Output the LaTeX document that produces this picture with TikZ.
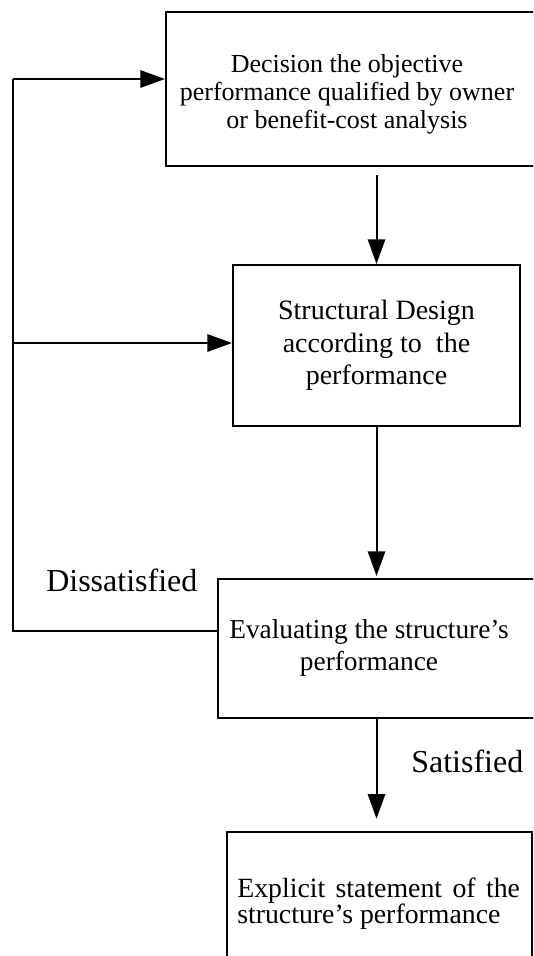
\documentclass[tikz,border=0pt]{standalone}
\usepackage{fontspec}
\setmainfont{Liberation Serif}
\usetikzlibrary{arrows.meta}
\tikzset{
  boxstyle/.style={draw, line width=1.5pt, rectangle, anchor=north west, inner sep=0pt},
  arr/.style={line width=1.5pt, -{Triangle[length=18.5pt,width=13pt]}},
  conn/.style={line width=1.5pt},
  lbl/.style={inner sep=0pt, font=\fontsize{24}{28}\selectfont},
}
\begin{document}
\begin{tikzpicture}[x=0.75pt,y=-0.75pt]
\clip (0,0) rectangle (533,956);
\fill[white] (0,0) rectangle (533,956);
% boxes
\node[boxstyle, minimum width=296.25pt, minimum height=115.5pt] (topbox) at (165,11) {};
\node[boxstyle, minimum width=215.25pt, minimum height=120.75pt, anchor=center,
      align=center, font=\fontsize{21}{24.4}\selectfont] (midbox) at (376.5,345.5)
      {Structural Design\\according to~ the\\performance};
\node[boxstyle, minimum width=255pt, minimum height=104.25pt] (evalbox) at (217,578) {};
\node[boxstyle, minimum width=229pt, minimum height=150pt] (botbox) at (225.7,830.7) {};
% texts
\node[anchor=north, inner sep=0pt, align=center, font=\fontsize{19.5}{21}\selectfont] (toptext) at (347,54)
  {Decision the objective\\performance qualified by owner\\or benefit-cost analysis};
\node[anchor=north, inner sep=0pt, align=center, font=\fontsize{20.5}{24}\selectfont] (evaltext) at (369,619)
  {Evaluating the structure's\\performance};
\node[anchor=north west, inner sep=0pt, align=left, font=\fontsize{20.85}{19.5}\selectfont] (bottext) at (237,878)
  {\makebox[212pt][s]{Explicit statement of the}\\structure's performance};
\node[lbl, anchor=base west] (dis) at (46,591) {Dissatisfied};
\node[lbl, anchor=base west] (sat) at (411,772) {Satisfied};
% connectors
\draw[arr, shorten <=6pt] (topbox.south -| midbox.north) -- (midbox.north);
\draw[arr, shorten >=1.5pt] (midbox.south) -- (midbox.south |- evalbox.north);
\draw[arr, shorten >=9pt] (midbox.south |- evalbox.south) -- (midbox.south |- botbox.north);
\coordinate (lb) at (13,631);
\coordinate (lt) at (13,79);
\coordinate (lm) at (13,343);
\draw[conn] (lb -| evalbox.west) -- (lb) -- (lt);
\draw[arr] (lt) -- (lt -| topbox.west);
\draw[arr] (lm) -- (lm -| midbox.west);
\end{tikzpicture}
\end{document}
